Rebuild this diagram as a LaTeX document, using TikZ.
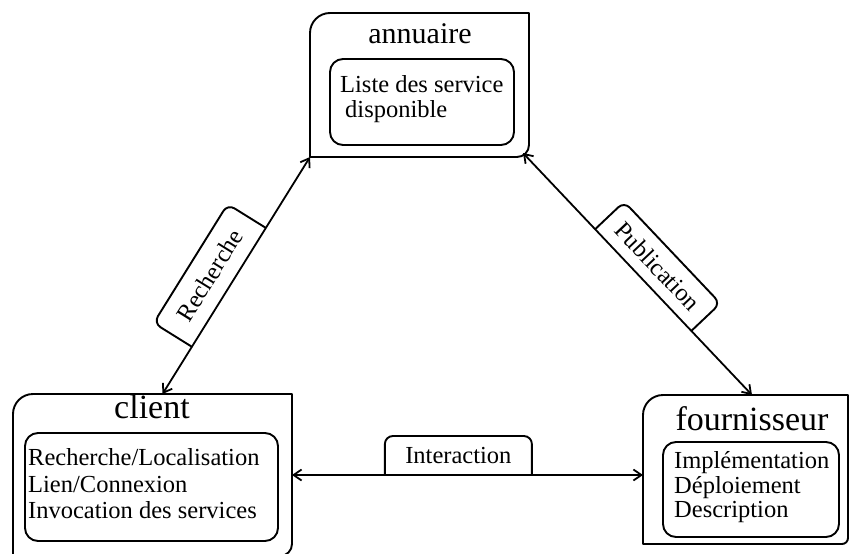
\documentclass[tikz,border=0pt]{standalone}
\usepackage{fontspec}
\setmainfont{Liberation Serif}
\usetikzlibrary{arrows.meta}

\tikzset{
  card/.style={draw=none, inner sep=0pt, outer sep=0pt},
  panel/.style={draw, line width=1.9pt, rounded corners=13pt, inner sep=0pt, outer sep=0pt},
  title/.style={font=\fontsize{34}{40}\selectfont, anchor=base, inner sep=0pt},
  item/.style={font=\fontsize{24.5}{28}\selectfont, anchor=base west, inner sep=0pt},
  tag/.style={font=\fontsize{24.5}{28}\selectfont, inner sep=0pt, outer sep=0pt,
              minimum width=140pt, minimum height=40pt, anchor=south, sloped},
  outline/.style={line width=1.9pt, line join=round},
  link/.style={line width=1.8pt,
               {Straight Barb[length=8pt,width=11pt]}-{Straight Barb[length=8pt,width=11pt]}},
}

% frame of a card: rounded top-left (#2) and bottom-right (#3) corners
\newcommand\cardedge[3]{%
  \draw[outline] (#1.south west) -- ([yshift=-#2]#1.north west)
    arc[start angle=180, end angle=90, radius=#2] -- (#1.north east)
    -- ([yshift=#3]#1.south east)
    arc[start angle=0, end angle=-90, radius=#3] -- cycle;}

% frame of a label: open bottom side resting on its connector
\newcommand\tagedge[1]{%
  \draw[outline, rounded corners=8pt] (#1.south west) -- (#1.north west)
    -- (#1.north east) -- (#1.south east);}

\begin{document}
\begin{tikzpicture}[x=1pt, y=1pt]
  \useasboundingbox (0,0) rectangle (849,-554);
  \clip (0,0) rectangle (849,-554);

  % cards
  \node[card, minimum width=219pt, minimum height=144pt] (annuaire) at (419.5,-85) {};
  \node[card, minimum width=279pt, minimum height=162pt] (client) at (152.5,-475) {};
  \node[card, minimum width=205pt, minimum height=149pt] (fournisseur) at (745.5,-469.5) {};
  \cardedge{annuaire}{20pt}{12pt}
  \cardedge{client}{20pt}{12pt}
  \cardedge{fournisseur}{20pt}{6pt}

  % titles
  \node[title, font=\fontsize{30}{36}\selectfont] (annuaire-title) at (420,-43) {annuaire};
  \node[title] (client-title) at (152,-418) {client};
  \node[title] (fournisseur-title) at (752,-430) {fournisseur};

  % inner panels
  \node[panel, minimum width=184pt, minimum height=86pt] (annuaire-list) at (422,-102) {};
  \node[panel, minimum width=253pt, minimum height=108pt] (client-list) at (151.5,-487) {};
  \node[panel, minimum width=176pt, minimum height=95pt] (fournisseur-list) at (751,-489.5) {};

  % panel contents
  \node[item] (a1) at (340,-92) {Liste des service};
  \node[item] (a2) at (345,-117) {disponible};
  \node[item] (c1) at (28,-465) {Recherche/Localisation};
  \node[item] (c2) at (28,-492) {Lien/Connexion};
  \node[item] (c3) at (28,-518) {Invocation des services};
  \node[item] (f1) at (674,-468) {Implémentation};
  \node[item] (f2) at (674,-493) {Déploiement};
  \node[item] (f3) at (674,-517) {Description};

  % connectors with their labels
  \draw[link] (annuaire.south west)
    -- node[tag, pos=0.55, minimum height=45pt] (recherche) {Recherche}
    ([xshift=10pt]client.north);
  \draw[link] ([xshift=-6pt,yshift=4pt]annuaire.south east)
    -- node[tag, pos=0.525] (publication) {Publication}
    ([xshift=6.5pt]fournisseur.north);
  \draw[link] (client.east)
    -- node[tag, pos=0.474, minimum width=147pt, minimum height=39pt] (interaction) {Interaction}
    (client.east -| fournisseur.west);
  \tagedge{recherche}
  \tagedge{publication}
  \tagedge{interaction}
\end{tikzpicture}
\end{document}
